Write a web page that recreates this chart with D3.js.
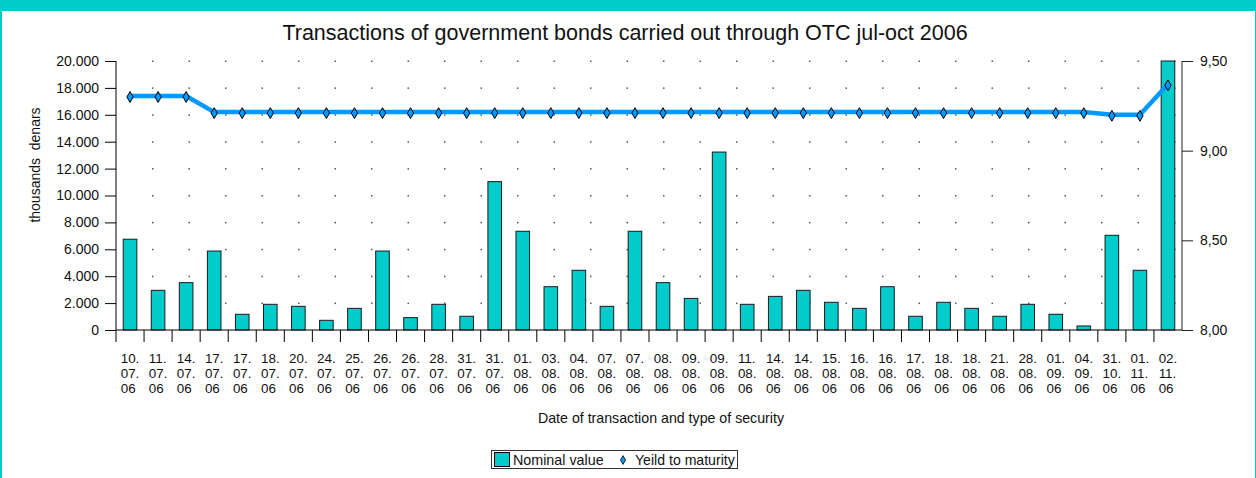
<!DOCTYPE html>
<html>
<head>
<meta charset="utf-8">
<script src="https://cdn.jsdelivr.net/npm/d3@7/dist/d3.min.js"></script>
<style>
  html, body { margin: 0; padding: 0; background: #00CCCC; }
  svg { display: block; }
  text { font-family: "Liberation Sans", Arial, sans-serif; fill: #111; }
</style>
</head>
<body>
<script>
// ---------- DATA ----------
const dates = ["10.07.06","11.07.06","14.07.06","17.07.06","17.07.06","18.07.06","20.07.06","24.07.06","25.07.06","26.07.06",
  "26.07.06","28.07.06","31.07.06","31.07.06","01.08.06","03.08.06","04.08.06","07.08.06","07.08.06","08.08.06",
  "09.08.06","09.08.06","11.08.06","14.08.06","14.08.06","15.08.06","16.08.06","16.08.06","17.08.06","18.08.06",
  "18.08.06","21.08.06","28.08.06","01.09.06","04.09.06","31.10.06","01.11.06","02.11.06"];
const nominalValue = [6750, 2950, 3520, 5870, 1170, 1910, 1760, 720, 1610, 5870,
  920, 1910, 1020, 11030, 7340, 3220, 4440, 1760, 7340, 3520,
  2350, 13230, 1910, 2500, 2950, 2060, 1610, 3220, 1020, 2060,
  1610, 1020, 1910, 1170, 300, 7040, 4440, 20000];
const yieldToMaturity = [9.305, 9.305, 9.305, 9.215, 9.215, 9.215, 9.215, 9.215, 9.215, 9.215,
  9.215, 9.215, 9.215, 9.215, 9.215, 9.215, 9.215, 9.215, 9.215, 9.215,
  9.215, 9.215, 9.215, 9.215, 9.215, 9.215, 9.215, 9.215, 9.215, 9.215,
  9.215, 9.215, 9.215, 9.215, 9.215, 9.20, 9.20, 9.37];
const leftTicks = [0, 2000, 4000, 6000, 8000, 10000, 12000, 14000, 16000, 18000, 20000];
const rightTicks = [8.0, 8.5, 9.0, 9.5];
const titleText = "Transactions of government bonds carried out through OTC jul-oct 2006";
const xTitleText = "Date of transaction and type of security";
const yTitleText = "thousands  denars";
const legendLabels = ["Nominal value", "Yeild to maturity"];

// ---------- LAYOUT ----------
const W = 1256, H = 478;
const L = 116, R = 1182, T = 61, B = 330;
const barColor = "#00CCCC", lineColor = "#0099FF";

const svg = d3.select("body").append("svg").attr("width", W).attr("height", H);
svg.append("rect").attr("x", 0).attr("y", 0).attr("width", W).attr("height", H).attr("fill", "#00CCCC");
svg.append("rect").attr("x", 2).attr("y", 11).attr("width", 1253).attr("height", H - 11).attr("fill", "#fff");

const loc = d3.formatLocale({decimal: ",", thousands: ".", grouping: [3], currency: ["", ""]});
const fLeft = loc.format(",.0f");
const fRight = loc.format(".2f");

const x = d3.scaleBand().domain(d3.range(dates.length)).range([L, R]).padding(0);
const y = d3.scaleLinear().domain([0, 20000]).range([B, T]);
const y2 = d3.scaleLinear().domain([8.0, 9.5]).range([B, T]);

// Title
svg.append("text").attr("x", 625).attr("y", 40).attr("text-anchor", "middle")
  .style("font-size", "21.5px").text(titleText);

// dotted grid
const dotStep = 36.5;
const dotXs = d3.range(1, 30).map(k => L + k * dotStep);
const gDots = svg.append("g");
leftTicks.filter(v => v > 0).forEach(v => {
  dotXs.forEach(dx => {
    gDots.append("rect").attr("x", dx - 0.5).attr("y", y(v) - 0.5).attr("width", 1.5).attr("height", 1.5).attr("fill", "#555");
  });
});

// Bars
const bw = x.bandwidth() * 0.485;
svg.append("g").selectAll("rect").data(nominalValue).join("rect")
  .attr("x", (d, i) => x(i) + (x.bandwidth() - bw) / 2)
  .attr("y", d => y(d))
  .attr("width", bw)
  .attr("height", d => B - y(d))
  .attr("fill", barColor)
  .attr("stroke", "#1a1a1a")
  .attr("stroke-width", 1);

// Left axis
const gL = svg.append("g").attr("transform", `translate(${L},0)`)
  .call(d3.axisLeft(y).tickValues(leftTicks).tickFormat(fLeft).tickSize(11).tickPadding(6));
gL.select(".domain").attr("stroke", "#000").attr("d", `M0,${T}V${B + 12}`);
gL.selectAll(".tick line").attr("stroke", "#000");
gL.selectAll(".tick text").style("font-size", "14px").style("font-family", "Liberation Sans, Arial, sans-serif").attr("fill", "#111");

// Right axis
const gR = svg.append("g").attr("transform", `translate(${R},0)`)
  .call(d3.axisRight(y2).tickValues(rightTicks).tickFormat(fRight).tickSize(11).tickPadding(7));
gR.select(".domain").attr("stroke", "#222").attr("d", `M0,${T}V${B}`);
gR.selectAll(".tick line").attr("stroke", "#222");
gR.selectAll(".tick text").style("font-size", "14px").style("font-family", "Liberation Sans, Arial, sans-serif").attr("fill", "#111");

// Bottom axis: baseline and category boundary ticks
svg.append("line").attr("x1", L).attr("x2", R).attr("y1", B).attr("y2", B).attr("stroke", "#000");
const gB = svg.append("g");
dates.forEach((d, i) => {
  if (i > 0) gB.append("line").attr("x1", x(i)).attr("x2", x(i)).attr("y1", B).attr("y2", B + 12).attr("stroke", "#000");
  const parts = d.split(".");
  const cx = x(i) + x.bandwidth() / 2;
  const t = gB.append("text").attr("x", cx - 9.3).attr("y", B + 32.5).style("font-size", "13.4px");
  t.append("tspan").attr("x", cx - 9.3).attr("dy", 0).text(parts[0] + ".");
  t.append("tspan").attr("x", cx - 9.3).attr("dy", 15.4).text(parts[1] + ".");
  t.append("tspan").attr("x", cx - 9.3).attr("dy", 15.4).text(parts[2]);
});

// Axis titles
svg.append("text").attr("x", 661).attr("y", 423).attr("text-anchor", "middle").style("font-size", "14.2px").text(xTitleText);
svg.append("text").attr("transform", "translate(40,165) rotate(-90)").attr("text-anchor", "middle")
  .attr("xml:space", "preserve").style("white-space", "pre").style("font-size", "14px").text(yTitleText);

// Yield line
const lineGen = d3.line().x((d, i) => x(i) + x.bandwidth() / 2).y(d => y2(d));
svg.append("path").datum(yieldToMaturity).attr("d", lineGen)
  .attr("fill", "none").attr("stroke", lineColor).attr("stroke-width", 4.5).attr("stroke-linejoin", "round");
const sym = d3.symbol().type(d3.symbolDiamond).size(34);
svg.append("g").selectAll("path").data(yieldToMaturity).join("path")
  .attr("transform", (d, i) => `translate(${x(i) + x.bandwidth() / 2},${y2(d) + 1})`)
  .attr("d", sym).attr("fill", lineColor).attr("stroke", "#000").attr("stroke-width", 1);

// Legend
const lg = svg.append("g");
lg.append("rect").attr("x", 491.5).attr("y", 450.5).attr("width", 246).attr("height", 18).attr("fill", "#fff").attr("stroke", "#333");
lg.append("rect").attr("x", 494.5).attr("y", 452.5).attr("width", 15).attr("height", 14).attr("fill", barColor).attr("stroke", "#000");
lg.append("text").attr("x", 513).attr("y", 464.5).style("font-size", "14.3px").text(legendLabels[0]);
lg.append("path").attr("transform", "translate(623,460)").attr("d", d3.symbol().type(d3.symbolDiamond).size(22))
  .attr("fill", lineColor).attr("stroke", "#000").attr("stroke-width", 0.8);
lg.append("text").attr("x", 635).attr("y", 464.5).style("font-size", "14.1px").text(legendLabels[1]);
</script>
</body>
</html>
